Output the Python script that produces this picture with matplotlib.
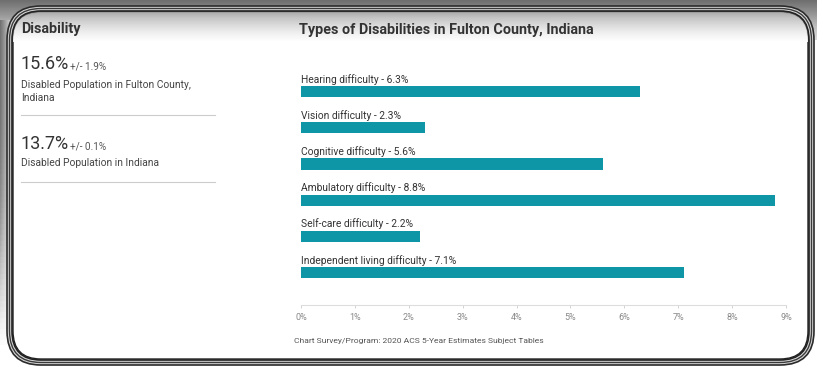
import numpy as np
import matplotlib.pyplot as plt
from matplotlib.patches import FancyBboxPatch

plt.rcParams['font.family'] = ['Roboto', 'DejaVu Sans']

categories = ["Hearing difficulty", "Vision difficulty", "Cognitive difficulty",
              "Ambulatory difficulty", "Self-care difficulty",
              "Independent living difficulty"]
values = [6.3, 2.3, 5.6, 8.8, 2.2, 7.1]
ticks = [0, 1, 2, 3, 4, 5, 6, 7, 8, 9]
tick_labels = [f"{t}%" for t in ticks]

county_rate, county_moe = 15.6, 1.9
state_rate, state_moe = 13.7, 0.1

W, H = 817, 371
teal = "#0f96a6"

fig = plt.figure(figsize=(W / 100, H / 100), dpi=100)
fig.patch.set_facecolor("white")

# background layer in pixel coordinates (y grows downward)
bg = fig.add_axes([0, 0, 1, 1], zorder=0)
bg.set_xlim(0, W)
bg.set_ylim(H, 0)
bg.axis("off")

# gray band behind the top of the frame
top = np.linspace(0, 1, 40)[:, None]
bg.imshow(np.tile(top, (1, 2)), cmap="Greys_r", vmin=-0.9, vmax=1.6,
          extent=[0, W, 40, 0], aspect="auto", zorder=0)
# shadow on the left side, fading out towards the bottom
gx = np.linspace(0, 1, 20)[None, :]
gy = np.linspace(0, 1, 60)[:, None]
left = 1 - (1 - gx) * (1 - gy ** 3)
bg.imshow(left, cmap="Greys_r", vmin=-0.6, vmax=1.0,
          extent=[0, 20, H - 20, 20], aspect="auto", zorder=0)

# white card with triple dark outline
r = 28
for off, ec, lw in [(6, "#2b2b2b", 1.2), (3.5, "#3a3a3a", 1.0), (1, "#222222", 1.2)]:
    bg.add_patch(FancyBboxPatch((13 - off, 12 - off), 795 + 2 * off, 347 + 2 * off,
                                boxstyle=f"round,pad=0,rounding_size={r + off}",
                                fc="#d8d8d8" if off == 6 else "none",
                                ec=ec, lw=lw, zorder=1))
card = FancyBboxPatch((13, 12), 795, 347, boxstyle=f"round,pad=0,rounding_size={r}",
                      fc="white", ec="#222222", lw=1.0, zorder=2)
bg.add_patch(card)

# soft inner shadow along the top edge of the card
shade = np.linspace(1, 0, 30)[:, None]
im = bg.imshow(np.tile(shade, (1, 2)), cmap="Greys", vmin=0, vmax=2.2,
               extent=[13, 808, 42, 12], aspect="auto", alpha=0.9, zorder=3)
im.set_clip_path(card)

# left summary panel
bg.text(21, 29, "Disability", fontsize=10.4, fontweight="bold", color="#333333",
        va="center", zorder=5)
bg.text(21, 69, f"{county_rate}%", fontsize=13, color="#333333", va="baseline", zorder=5)
bg.text(70, 69, f"+/- {county_moe}%", fontsize=7.2, color="#555555", va="baseline", zorder=5)
bg.text(21, 85, "Disabled Population in Fulton County,", fontsize=7.4,
        color="#444444", va="center", zorder=5)
bg.text(21, 98, "Indiana", fontsize=7.4, color="#444444", va="center", zorder=5)
bg.plot([21, 215], [115, 115], color="#cccccc", lw=0.8, zorder=5)
bg.text(21, 149, f"{state_rate}%", fontsize=13, color="#333333", va="baseline", zorder=5)
bg.text(70, 149, f"+/- {state_moe}%", fontsize=7.2, color="#555555", va="baseline", zorder=5)
bg.text(21, 163, "Disabled Population in Indiana", fontsize=7.4,
        color="#444444", va="center", zorder=5)
bg.plot([21, 215], [182, 182], color="#cccccc", lw=0.8, zorder=5)

# chart title and source line
bg.text(299, 30, "Types of Disabilities in Fulton County, Indiana", fontsize=10.4,
        fontweight="bold", color="#333333", va="center", zorder=5)
bg.text(294, 341, "Chart Survey/Program: 2020 ACS 5-Year Estimates Subject Tables",
        fontsize=6.1, color="#555555", va="center", zorder=5)

# bar chart
ax = fig.add_axes([301 / W, 1 - 305 / H, 485 / W, 235 / H], zorder=4)
ax.patch.set_alpha(0)
y = np.arange(len(categories))
ax.barh(y, values, height=0.31, color=teal)
for i, (c, v) in enumerate(zip(categories, values)):
    ax.text(0, i - 0.19, f"{c} - {v}%", fontsize=7.4, color="#333333",
            va="bottom", ha="left")
ax.set_xlim(0, 9)
ax.set_ylim(5.9, -0.6)
ax.set_yticks([])
ax.set_xticks(ticks)
ax.set_xticklabels(tick_labels, fontsize=6.5, color="#888888")
ax.tick_params(axis="x", length=2, width=0.6, color="#cccccc", pad=4)
for s in ["top", "right", "left"]:
    ax.spines[s].set_visible(False)
ax.spines["bottom"].set_color("#dddddd")
ax.spines["bottom"].set_linewidth(0.8)

fig.savefig("out.png", dpi=100)
